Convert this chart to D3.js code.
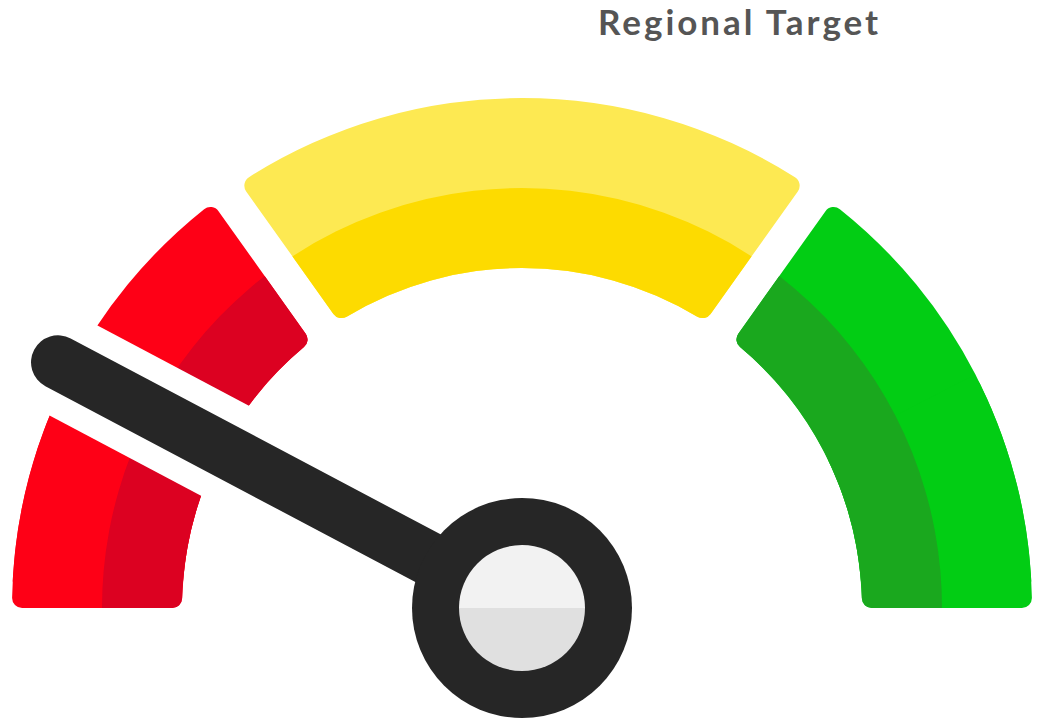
<!DOCTYPE html>
<html>
<head>
<meta charset="utf-8">
<script src="https://cdn.jsdelivr.net/npm/d3@7"></script>
<style>
  html, body { margin: 0; padding: 0; background: #fff; }
  svg { display: block; }
</style>
</head>
<body>
<svg id="chart"></svg>
<script>
// gauge data
var bandNames = ['Low', 'Medium', 'High'];
var bandBounds = [0, 30.3, 69.7, 100];
var gaugeDomain = [0, 100];
var needleValue = 15.5;
var titleText = 'Regional Target';

// palette
var lightColors = ['#fe0016', '#fde952', '#02cd14'];
var darkColors = ['#dc0121', '#fddb00', '#1aa81e'];

var width = 1038, height = 720;
var cx = 522, cy = 608;
var rInner = 340, rMid = 420, rOuter = 510;
var gap = 34, padR = 425;

var svg = d3.select('#chart')
  .attr('width', width)
  .attr('height', height);

var defs = svg.append('defs');

var angle = d3.scaleLinear()
  .domain(gaugeDomain)
  .range([-Math.PI / 2, Math.PI / 2]);

var bands = bandNames.map((name, i) => ({
  name: name,
  from: bandBounds[i],
  to: bandBounds[i + 1],
  light: lightColors[i],
  dark: darkColors[i]
}));

// padded arc gives the parallel gaps between bands
var padArc = d3.arc()
  .innerRadius(rInner)
  .outerRadius(rOuter)
  .padRadius(padR)
  .padAngle(gap / padR)
  .cornerRadius(10);

// un-padded arc keeps the flat bottom ends of the gauge
var plainArc = d3.arc()
  .innerRadius(rInner)
  .outerRadius(rOuter)
  .cornerRadius(10);

var darkArc = d3.arc()
  .innerRadius(rInner - 5)
  .outerRadius(rMid);

var g = svg.append('g')
  .attr('transform', `translate(${cx},${cy})`);

bands.forEach((b, i) => {
  var pieces = [padArc({ startAngle: angle(b.from), endAngle: angle(b.to) })];
  var mid = (b.from + b.to) / 2;
  if (b.from === gaugeDomain[0]) {
    pieces.push(plainArc({ startAngle: angle(b.from), endAngle: angle(mid) }));
  }
  if (b.to === gaugeDomain[1]) {
    pieces.push(plainArc({ startAngle: angle(mid), endAngle: angle(b.to) }));
  }

  var clip = defs.append('clipPath').attr('id', 'band-clip-' + i);
  clip.selectAll('path')
    .data(pieces)
    .enter()
    .append('path')
    .attr('d', d => d);

  var bg = g.append('g').attr('class', 'band');
  bg.selectAll('path.light')
    .data(pieces)
    .enter()
    .append('path')
    .attr('class', 'light')
    .attr('d', d => d)
    .attr('fill', b.light);

  bg.append('path')
    .attr('d', darkArc({ startAngle: angle(b.from) - 0.3, endAngle: angle(b.to) + 0.3 }))
    .attr('fill', b.dark)
    .attr('clip-path', `url(#band-clip-${i})`);
});

// needle
var needleLen = 525;
var tip = d3.pointRadial(angle(needleValue), needleLen);
var haloTip = d3.pointRadial(angle(needleValue), needleLen + 80);

g.append('line')
  .attr('x1', 0).attr('y1', 0)
  .attr('x2', haloTip[0]).attr('y2', haloTip[1])
  .attr('stroke', '#fff')
  .attr('stroke-width', 102);

g.append('line')
  .attr('x1', 0).attr('y1', 0)
  .attr('x2', tip[0]).attr('y2', tip[1])
  .attr('stroke', '#262626')
  .attr('stroke-width', 54)
  .attr('stroke-linecap', 'round');

// hub
g.append('circle')
  .attr('r', 110)
  .attr('fill', '#262626');

var hubArc = d3.arc().innerRadius(0).outerRadius(63);
g.append('path')
  .attr('d', hubArc({ startAngle: -Math.PI / 2, endAngle: Math.PI / 2 }))
  .attr('fill', '#f2f2f2');
g.append('path')
  .attr('d', hubArc({ startAngle: Math.PI / 2, endAngle: Math.PI * 1.5 }))
  .attr('fill', '#e0e0e0');

// title
svg.append('text')
  .attr('x', 738)
  .attr('y', 35)
  .attr('text-anchor', 'middle')
  .attr('font-family', 'Lato, sans-serif')
  .attr('font-weight', 'bold')
  .attr('font-size', 35)
  .attr('textLength', 280)
  .attr('lengthAdjust', 'spacing')
  .attr('fill', '#555555')
  .text(titleText);
</script>
</body>
</html>
